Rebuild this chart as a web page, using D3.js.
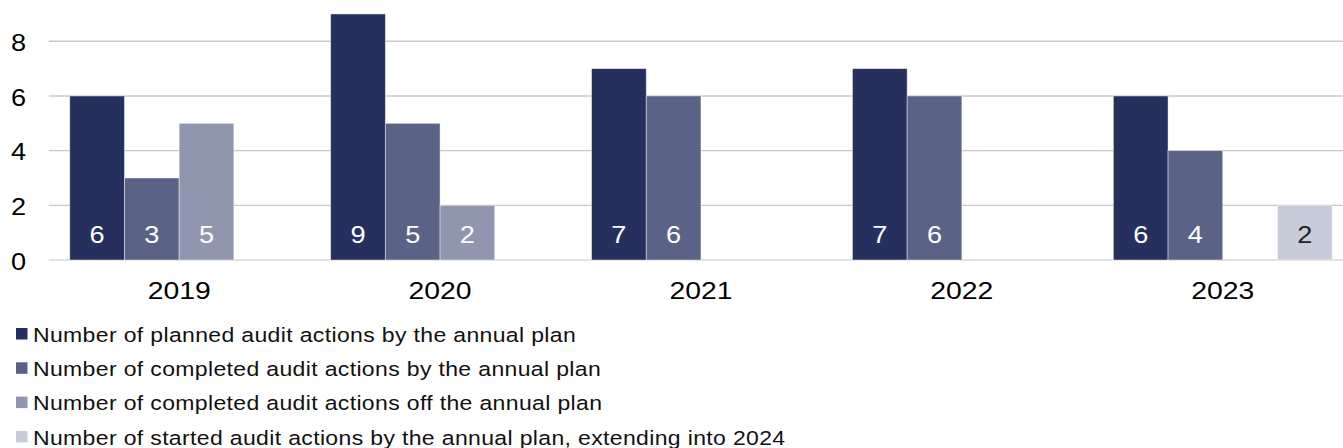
<!DOCTYPE html>
<html>
<head>
<meta charset="utf-8">
<script src="https://cdn.jsdelivr.net/npm/d3@7"></script>
<style>
  html, body { margin: 0; padding: 0; background: #fff; }
  svg { display: block; font-family: Arial, "Liberation Sans", sans-serif; }
</style>
</head>
<body>
<svg id="chart" width="1343" height="448"></svg>
<script>
// Audit actions per year, four series
const years = ["2019", "2020", "2021", "2022", "2023"];
const seriesNames = [
  "Number of planned audit actions by the annual plan",
  "Number of completed audit actions by the annual plan",
  "Number of completed audit actions off the annual plan",
  "Number of started audit actions by the annual plan, extending into 2024"
];
const planned        = [6, 9, 7, 7, 6];
const completedPlan  = [3, 5, 6, 6, 4];
const completedOff   = [5, 2, 0, 0, 0];
const startedInto24  = [0, 0, 0, 0, 2];
const yTicks = [0, 2, 4, 6, 8];

const seriesValues = [planned, completedPlan, completedOff, startedInto24];
const colors = ["#25305E", "#5A6386", "#9196B0", "#C8CCD8"];
const labelColors = ["#ffffff", "#ffffff", "#ffffff", "#222222"];

const svg = d3.select("#chart");
const sx = 1.18; // horizontal text stretch

const x0 = d3.scaleBand()
  .domain(years)
  .range([48.7, 1353.2])
  .paddingInner(0.1614)
  .paddingOuter(0.0807);

const x1 = d3.scaleBand()
  .domain(d3.range(seriesNames.length))
  .range([0, x0.bandwidth()]);

const y = d3.scaleLinear().domain([0, 8]).range([260, 41.3]);

// gridlines
svg.append("g")
  .selectAll("line")
  .data(yTicks)
  .join("line")
  .attr("x1", x0.range()[0])
  .attr("x2", x0.range()[1])
  .attr("y1", d => y(d))
  .attr("y2", d => y(d))
  .attr("stroke", d => d === 0 ? "#d9d9d9" : "#c8c8c8")
  .attr("stroke-width", 1.4);

// y tick labels
svg.append("g")
  .selectAll("text")
  .data(yTicks)
  .join("text")
  .attr("transform", d => `translate(26,${y(d) + 9.7}) scale(${sx},1)`)
  .attr("text-anchor", "end")
  .attr("font-size", 23)
  .attr("fill", "#000")
  .text(d => d);

// bars
const rows = [];
years.forEach((yr, i) => {
  seriesValues.forEach((vals, s) => {
    if (vals[i] > 0) rows.push({ year: yr, s, v: vals[i] });
  });
});

const bars = svg.append("g");
bars.selectAll("rect")
  .data(rows)
  .join("rect")
  .attr("x", d => x0(d.year) + x1(d.s))
  .attr("y", d => y(d.v))
  .attr("width", x1.bandwidth())
  .attr("height", d => y(0) - y(d.v))
  .attr("fill", d => colors[d.s])
  .attr("stroke", "rgba(255,255,255,0.55)")
  .attr("stroke-width", 0.8);

// value labels inside bars
bars.selectAll("text")
  .data(rows)
  .join("text")
  .attr("transform", d => `translate(${x0(d.year) + x1(d.s) + x1.bandwidth() / 2},${y(0) - 16.7}) scale(${sx},1)`)
  .attr("text-anchor", "middle")
  .attr("font-size", 23)
  .attr("fill", d => labelColors[d.s])
  .text(d => d.v);

// x axis labels
svg.append("g")
  .selectAll("text")
  .data(years)
  .join("text")
  .attr("transform", d => `translate(${x0(d) - x0.step() * x0.paddingInner() / 2 + x0.step() / 2},299) scale(${sx},1)`)
  .attr("text-anchor", "middle")
  .attr("font-size", 24)
  .attr("fill", "#000")
  .text(d => d);

// legend
const legend = svg.append("g")
  .selectAll("g")
  .data(seriesNames)
  .join("g")
  .attr("transform", (d, i) => `translate(16,${328 + i * 34.3})`);

legend.append("rect")
  .attr("width", 11.5)
  .attr("height", 11.5)
  .attr("fill", (d, i) => colors[i]);

legend.append("text")
  .attr("transform", `translate(17,13.6) scale(${sx},1)`)
  .attr("font-size", 19.5)
  .attr("letter-spacing", 0.3)
  .attr("fill", "#111")
  .text(d => d);
</script>
</body>
</html>
